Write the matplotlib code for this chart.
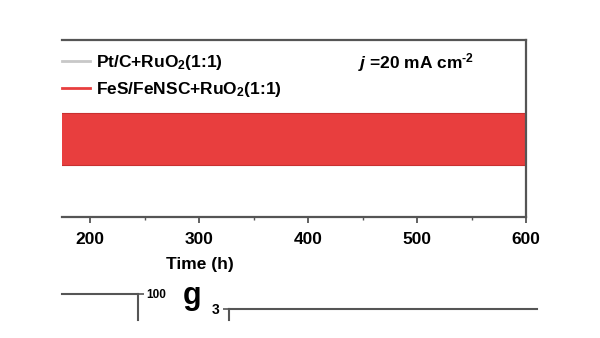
import numpy as np
import matplotlib.pyplot as plt
from matplotlib.lines import Line2D

plt.rcParams['font.family'] = 'Liberation Sans'
plt.rcParams['font.weight'] = 'bold'
plt.rcParams['axes.labelweight'] = 'bold'
plt.rcParams['mathtext.fontset'] = 'custom'
plt.rcParams['mathtext.rm'] = 'Liberation Sans:bold'
plt.rcParams['mathtext.it'] = 'Liberation Sans:italic:bold'
plt.rcParams['mathtext.bf'] = 'Liberation Sans:bold'

# band of the FeS/FeNSC cycling curve (charge / discharge voltage envelope)
tiempo = [0, 100, 200, 300, 400, 500, 600]
v_carga = [1.68, 1.68, 1.68, 1.68, 1.68, 1.68, 1.68]
v_descarga = [1.09, 1.09, 1.09, 1.09, 1.09, 1.09, 1.09]
xticks = [200, 300, 400, 500, 600]
etiquetas = ['Pt/C+RuO$_2$(1:1)', 'FeS/FeNSC+RuO$_2$(1:1)']
colores = ['#c8c8c8', '#e83e3e']

gris = '#555555'
fig = plt.figure(figsize=(6, 3.38), dpi=100)

# panel principal (recortado por la izquierda)
ax = fig.add_axes([62/600, (338-217)/338, 464/600, (217-40)/338])
ax.fill_between(tiempo, v_descarga, v_carga, color=colores[1], lw=0)
ax.plot(tiempo, v_carga, color='#c83030', lw=0.8)
ax.plot(tiempo, v_descarga, color='#c83030', lw=0.8)
ax.set_xlim(174.3, 600)
ax.set_ylim(0.5, 2.5)
ax.set_xticks(xticks)
ax.set_xticks(np.arange(200, 601, 50), minor=True)
ax.set_yticks([])
ax.tick_params(axis='x', direction='out', length=4, width=1.3, color=gris,
               labelsize=12.5, pad=7)
ax.tick_params(axis='x', which='minor', direction='out', length=2.5, width=1, color=gris)
for s in ax.spines.values():
    s.set_color(gris)
    s.set_linewidth(1.6)
ax.spines['left'].set_visible(False)
ax.set_xlabel('Time (h)', fontsize=12.5)
ax.xaxis.set_label_coords((200-62)/464, -(265-217)/177, transform=ax.transAxes)
ax.xaxis.label.set_va('center')

manejadores = [Line2D([], [], color=c, lw=2) for c in colores]
fig.legend(manejadores, etiquetas, loc='upper left', bbox_to_anchor=(62/600, (338-53)/338),
           frameon=False, fontsize=12.5, handlelength=1.6, handletextpad=0.35,
           borderpad=0, borderaxespad=0, labelspacing=0.45)
fig.text(416/600, (338-63)/338, r'$j$ =20 mA cm$^{\text{-}2}$', fontsize=12.5,
         ha='center', va='center')

# fragmentos de los paneles inferiores
axa = fig.add_axes([62/600, 18/338, 76/600, 26/338])
axa.set_xlim(0, 1)
axa.set_ylim(0, 100)
axa.set_xticks([])
axa.yaxis.tick_right()
axa.set_yticks([100])
axa.tick_params(axis='y', direction='out', length=4, width=1.2, color=gris,
                labelsize=8.5, pad=2)
for k in ['left', 'bottom']:
    axa.spines[k].set_visible(False)
for k in ['top', 'right']:
    axa.spines[k].set_color(gris)
    axa.spines[k].set_linewidth(1.5)

axb = fig.add_axes([229/600, 18/338, 308/600, 11/338])
axb.set_xlim(0, 1)
axb.set_ylim(0, 3)
axb.set_xticks([])
axb.set_yticks([3])
axb.tick_params(axis='y', direction='out', length=4, width=1.2, color=gris,
                labelsize=10, pad=3)
for k in ['right', 'bottom']:
    axb.spines[k].set_visible(False)
for k in ['top', 'left']:
    axb.spines[k].set_color(gris)
    axb.spines[k].set_linewidth(1.5)

fig.text(192/600, (338-296)/338, 'g', fontsize=22, ha='center', va='center')

fig.savefig('out.png', dpi=100, facecolor='white')
